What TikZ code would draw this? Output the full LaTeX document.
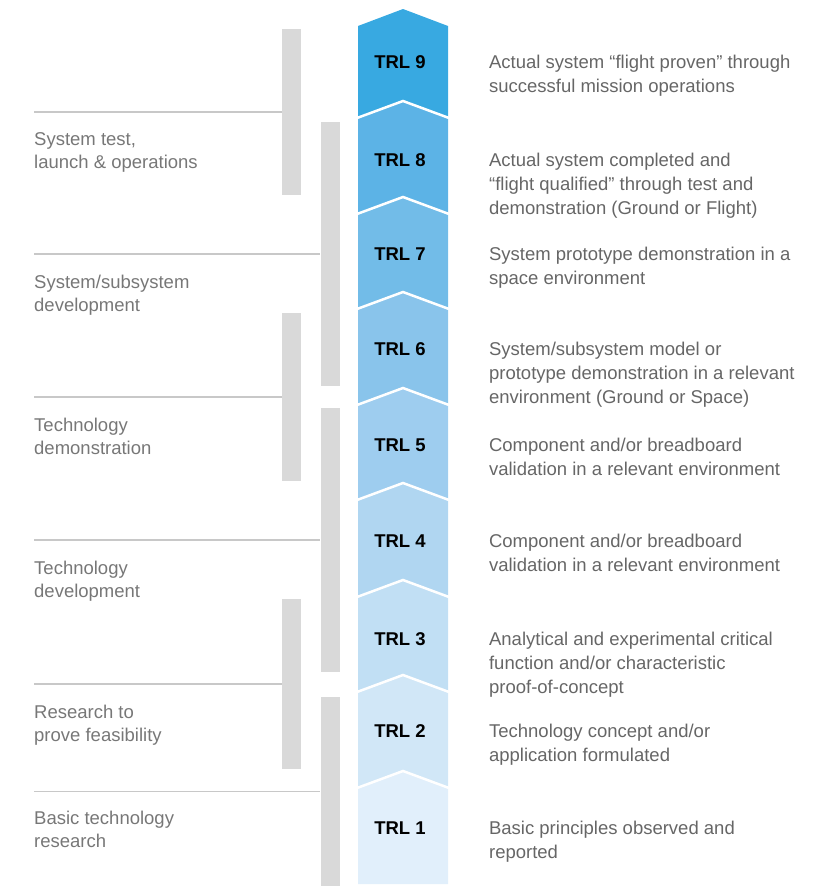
\documentclass[tikz,border=0pt]{standalone}
\usepackage{fontspec}
\setmainfont{Liberation Sans}
\usetikzlibrary{positioning}

\definecolor{trl9}{HTML}{38A9E1}
\definecolor{trl8}{HTML}{5CB3E6}
\definecolor{trl7}{HTML}{72BCE8}
\definecolor{trl6}{HTML}{89C4EB}
\definecolor{trl5}{HTML}{9ECDEF}
\definecolor{trl4}{HTML}{B0D6F1}
\definecolor{trl3}{HTML}{C1DFF4}
\definecolor{trl2}{HTML}{D1E7F7}
\definecolor{trl1}{HTML}{E1EFFB}
\definecolor{descgray}{HTML}{666666}
\definecolor{phasegray}{HTML}{777777}
\definecolor{bargray}{HTML}{D9D9D9}
\definecolor{rulegray}{HTML}{C8C8C8}

\begin{document}
\begin{tikzpicture}[x=1pt,y=-1pt,
    level/.style={font=\bfseries\fontsize{18.5}{24}\selectfont,inner sep=0pt,anchor=base},
    desc/.style={font=\fontsize{18.5}{24}\selectfont,text=descgray,align=left,inner sep=0pt},
    two/.style={yshift=-24pt},
    three/.style={yshift=-48pt},
    phase/.style={font=\fontsize{18.5}{23}\selectfont,text=phasegray,align=left,inner sep=0pt,anchor=base west},
    bar/.style={fill=bargray,minimum width=19pt,inner sep=0pt},
    rule/.style={draw=rulegray,line width=1.2pt}]

  \useasboundingbox (0,0) rectangle (816,886);

  % the arrow, one chevron per level
  \foreach \n/\t/\b/\d in {9/26/118/17,8/118/214/17,7/214/309/17,6/309/405/17,
      5/405/500/17,4/500/597/17,3/597/692/17,2/692/788/17,1/788/884/0}
    \fill[trl\n] (358,\t) -- (403,\t-17) -- (448,\t) -- (448,\b)
      -- (403,\b-\d) -- (358,\b) -- cycle;
  \foreach \b in {118,214,309,405,500,597,692,788}
    \draw[white,line width=2.5pt] (357,\b) -- (403,\b-17) -- (449,\b);

  \foreach \n/\y in {9/68,8/166,7/260,6/355,5/451,4/547,3/645,2/737,1/834}
    \node[level] (trl\n) at (400,\y) {TRL \n};

  \node[desc,two,base right=63pt of trl9] (d9) {Actual system “flight proven” through\\successful mission operations};
  \node[desc,three,base right=63pt of trl8] (d8) {Actual system completed and\\“flight qualified” through test and\\demonstration (Ground or Flight)};
  \node[desc,two,base right=63pt of trl7] (d7) {System prototype demonstration in a\\space environment};
  \node[desc,three,base right=63pt of trl6] (d6) {System/subsystem model or\\prototype demonstration in a relevant\\environment (Ground or Space)};
  \node[desc,two,base right=63pt of trl5] (d5) {Component and/or breadboard\\validation in a relevant environment};
  \node[desc,two,base right=63pt of trl4] (d4) {Component and/or breadboard\\validation in a relevant environment};
  \node[desc,three,base right=63pt of trl3] (d3) {Analytical and experimental critical\\function and/or characteristic\\proof-of-concept};
  \node[desc,two,base right=63pt of trl2] (d2) {Technology concept and/or\\application formulated};
  \node[desc,two,base right=63pt of trl1] (d1) {Basic principles observed and\\reported};

  % phase bars
  \node[bar,minimum height=166pt] (opsbar)   at (291.5,112) {};
  \node[bar,minimum height=264pt] (sysbar)   at (330,254) {};
  \node[bar,minimum height=168pt] (demobar)  at (291.5,397) {};
  \node[bar,minimum height=264pt] (devbar)   at (330,540) {};
  \node[bar,minimum height=170pt] (feasbar)  at (291.5,684) {};
  \node[bar,minimum height=189pt] (basicbar) at (330,791.5) {};

  % phase names (anchored on their last line)
  \node[phase] (ops)   at (34,168) {System test,\\launch \& operations};
  \node[phase] (sys)   at (34,311) {System/subsystem\\development};
  \node[phase] (demo)  at (34,454) {Technology\\demonstration};
  \node[phase] (dev)   at (34,597) {Technology\\development};
  \node[phase] (feas)  at (34,741) {Research to\\prove feasibility};
  \node[phase] (basic) at (34,847) {Basic technology\\research};

  \coordinate (opsrule)   at (34,112);
  \coordinate (sysrule)   at (34,254);
  \coordinate (demorule)  at (34,397);
  \coordinate (devrule)   at (34,540);
  \coordinate (feasrule)  at (34,684);
  \coordinate (basicrule) at (34,791.5);
  \draw[rule] (opsrule)   -- (opsbar.west);
  \draw[rule] (sysrule)   -- (sysbar.west);
  \draw[rule] (demorule)  -- (demobar.west);
  \draw[rule] (devrule)   -- (devbar.west);
  \draw[rule] (feasrule)  -- (feasbar.west);
  \draw[rule] (basicrule) -- (basicbar.west);
\end{tikzpicture}
\end{document}
